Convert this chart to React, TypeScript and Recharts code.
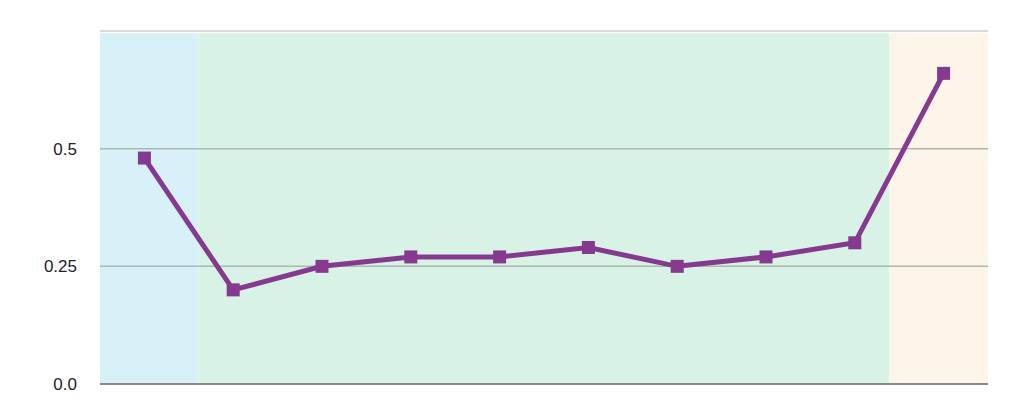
import React from 'react';
import {
  ComposedChart,
  Line,
  XAxis,
  YAxis,
  ReferenceArea,
  ReferenceLine,
} from 'recharts';

// point positions along the x axis and their values
const positions = [0, 1, 2, 3, 4, 5, 6, 7, 8, 9];
const values = [0.48, 0.2, 0.25, 0.27, 0.27, 0.29, 0.25, 0.27, 0.3, 0.66];

// y ticks and their labels (top line carries no label)
const yTicks = [0, 0.25, 0.5, 0.75];
const yTickLabels = ['0.0', '0.25', '0.5', ''];

// shaded regions: [start, end] in x units
const regionStarts = [-0.5, 0.61, 8.39];
const regionEnds = [0.61, 8.39, 9.5];
const regionColors = ['#d8f0f8', '#d8f3e6', '#fdf5ea'];

const data = positions.map((x, i) => ({ x, value: values[i] }));

const SquareDot = (props: any) => {
  const { cx, cy } = props;
  if (cx == null || cy == null) return null;
  return <rect x={cx - 6.5} y={cy - 6.5} width={13} height={13} fill="#863a8f" />;
};

export default function App() {
  return (
    <div style={{ margin: -8, width: 1024, height: 413, background: '#fff' }}>
      <ComposedChart
        width={1024}
        height={413}
        data={data}
        margin={{ top: 31, right: 36, bottom: 0, left: 0 }}
      >
        <XAxis
          dataKey="x"
          type="number"
          domain={[-0.5, 9.5]}
          ticks={[]}
          tick={false}
          tickLine={false}
          axisLine={{ stroke: '#8a8a8a', strokeWidth: 2 }}
          height={29}
        />
        <YAxis
          type="number"
          domain={[0, 0.75]}
          ticks={yTicks}
          width={100}
          axisLine={false}
          tickLine={false}
          tickSize={0}
          tickMargin={23}
          tickFormatter={(v: number) => yTickLabels[yTicks.indexOf(v)] ?? ''}
          tick={{ fill: '#222', fontSize: 17, fontFamily: 'Liberation Sans, Arial, sans-serif' }}
        />
        {regionStarts.map((s, i) => (
          <ReferenceArea
            key={i}
            x1={s}
            x2={regionEnds[i]}
            y1={0}
            y2={0.745}
            fill={regionColors[i]}
            fillOpacity={1}
            stroke="none"
            ifOverflow="visible"
          />
        ))}
        <ReferenceLine y={0.25} stroke="#a9b8b0" strokeWidth={1.5} />
        <ReferenceLine y={0.5} stroke="#a9b8b0" strokeWidth={1.5} />
        <ReferenceLine y={0.75} stroke="#cfcfcf" strokeWidth={1.5} />
        <Line
          type="linear"
          dataKey="value"
          stroke="#863a8f"
          strokeWidth={5}
          dot={<SquareDot />}
          activeDot={false}
          isAnimationActive={false}
        />
      </ComposedChart>
    </div>
  );
}
